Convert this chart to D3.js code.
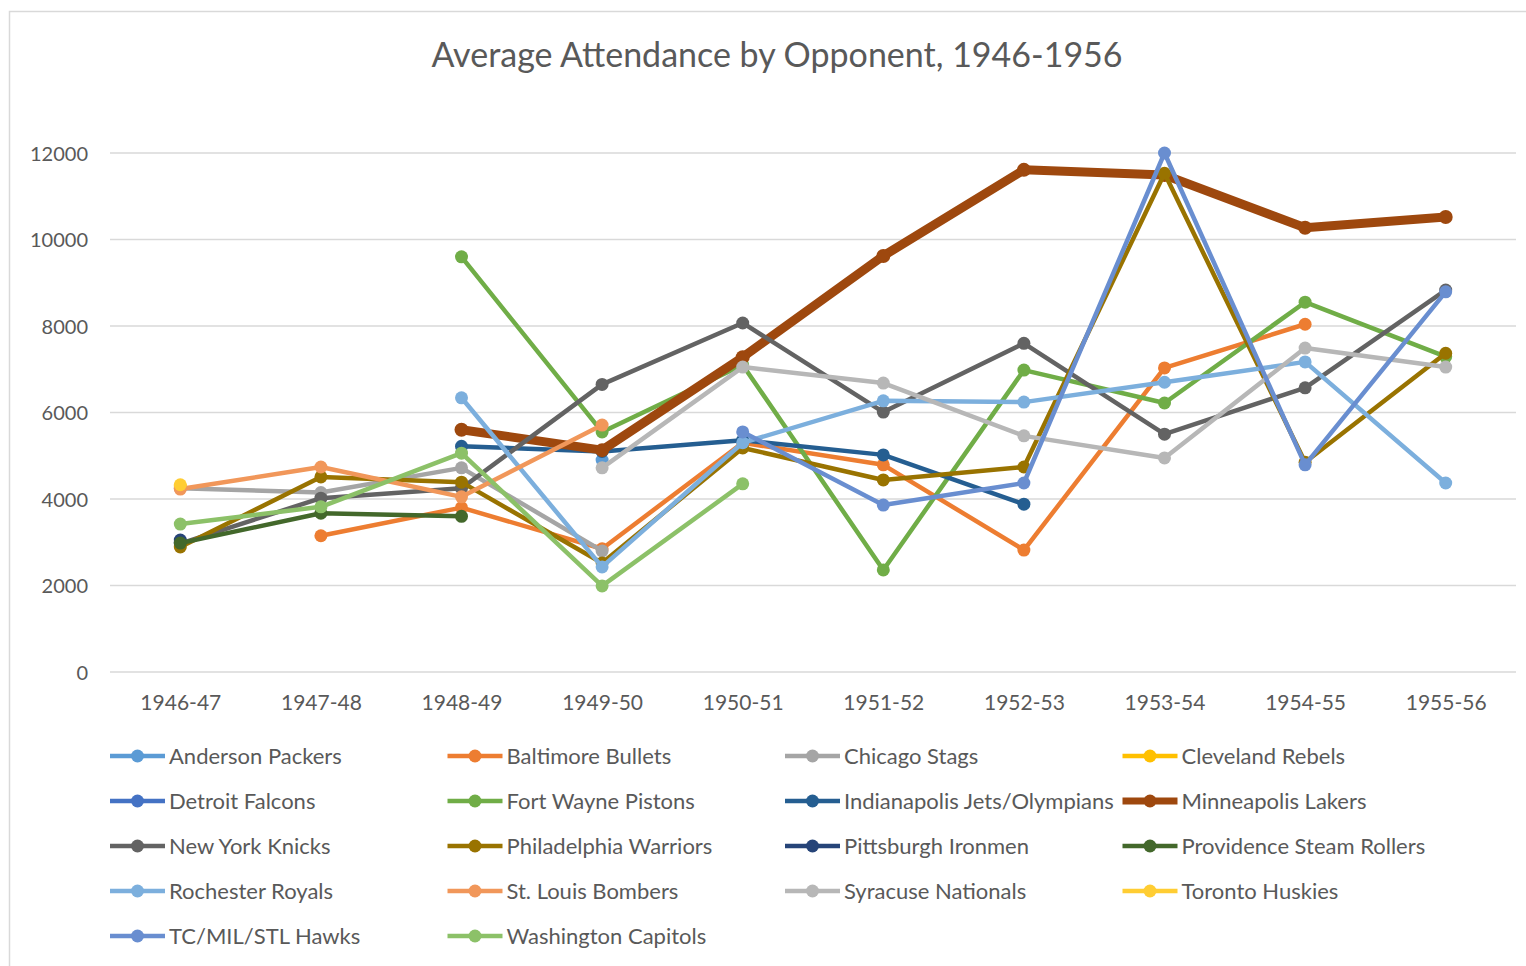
<!DOCTYPE html>
<meta charset="utf-8">
<head>
  <title>Average Attendance by Opponent</title>
</head>

<style>
body { margin: 0; background: white; }
text {
  font-family: Lato, "Noto Sans", sans-serif;
  fill: #595959;
}
.grid line { stroke: #d9d9d9; stroke-width: 1.5; }
.series path { fill: none; stroke-linejoin: round; }
</style>

<body>
  <svg width="1526" height="966"></svg>

  <script src="https://cdnjs.cloudflare.com/ajax/libs/d3/7.8.5/d3.min.js"></script>
  <script>
var seasons = ['1946-47', '1947-48', '1948-49', '1949-50', '1950-51',
               '1951-52', '1952-53', '1953-54', '1954-55', '1955-56'];
var yTicks = [0, 2000, 4000, 6000, 8000, 10000, 12000];

var teams = ['Anderson Packers', 'Baltimore Bullets', 'Chicago Stags', 'Cleveland Rebels',
             'Detroit Falcons', 'Fort Wayne Pistons', 'Indianapolis Jets/Olympians', 'Minneapolis Lakers',
             'New York Knicks', 'Philadelphia Warriors', 'Pittsburgh Ironmen', 'Providence Steam Rollers',
             'Rochester Royals', 'St. Louis Bombers', 'Syracuse Nationals', 'Toronto Huskies',
             'TC/MIL/STL Hawks', 'Washington Capitols'];

var teamColors = ['#5b9bd5', '#ed7d31', '#a5a5a5', '#ffc000',
                  '#4472c4', '#70ad47', '#255e91', '#9e480e',
                  '#636363', '#997300', '#264478', '#43682b',
                  '#7cafdd', '#f1975a', '#b7b7b7', '#ffcd33',
                  '#698ed0', '#8cc168'];

// one row per team, one value per season (null = no game that season)
var anderson     = [null, null, null, 4900, null, null, null, null, null, null];
var baltimore    = [null, 3150, 3800, 2850, 5300, 4790, 2820, 7030, 8040, null];
var chicago      = [4250, 4150, 4720, 2800, null, null, null, null, null, null];
var cleveland    = [4300, null, null, null, null, null, null, null, null, null];
var detroit      = [3000, null, null, null, null, null, null, null, null, null];
var fortWayne    = [null, null, 9600, 5550, 7100, 2360, 6980, 6220, 8550, 7290];
var indianapolis = [null, null, 5220, 5100, 5360, 5020, 3880, null, null, null];
var minneapolis  = [null, null, 5600, 5130, 7280, 9620, 11610, 11490, 10270, 10520];
var newYork      = [2970, 4020, 4250, 6650, 8070, 6010, 7600, 5500, 6570, 8830];
var philadelphia = [2890, 4510, 4390, 2520, 5180, 4440, 4740, 11530, 4850, 7370];
var pittsburgh   = [3050, null, null, null, null, null, null, null, null, null];
var providence   = [2980, 3670, 3600, null, null, null, null, null, null, null];
var rochester    = [null, null, 6340, 2430, 5300, 6270, 6240, 6700, 7170, 4370];
var stLouis      = [4230, 4740, 4050, 5710, null, null, null, null, null, null];
var syracuse     = [null, null, null, 4720, 7050, 6680, 5460, 4950, 7490, 7050];
var toronto      = [4330, null, null, null, null, null, null, null, null, null];
var hawks        = [null, null, null, null, 5550, 3860, 4370, 12000, 4790, 8790];
var washington   = [3420, 3820, 5060, 1990, 4350, null, null, null, null, null];

var values = [anderson, baltimore, chicago, cleveland, detroit, fortWayne, indianapolis,
              minneapolis, newYork, philadelphia, pittsburgh, providence, rochester,
              stLouis, syracuse, toronto, hawks, washington];

var series = teams.map(function(t, i) {
  return {
    name: t,
    color: teamColors[i],
    thick: t === 'Minneapolis Lakers',
    points: seasons.map(function(s, j) { return {season: s, value: values[i][j]}; })
  };
});

var svg = d3.select('svg');

// chart border
svg.append('rect')
  .attr('x', 9.5).attr('y', 11.5)
  .attr('width', 1540).attr('height', 1000)
  .attr('fill', 'white')
  .attr('stroke', '#d9d9d9')
  .attr('stroke-width', 1.5);

var x = d3.scalePoint()
  .domain(seasons)
  .range([110, 1516])
  .padding(0.5);

var y = d3.scaleLinear()
  .domain([0, 12000])
  .range([672, 153]);

svg.append('text')
  .attr('x', 777)
  .attr('y', 67)
  .attr('text-anchor', 'middle')
  .style('font-size', '34px')
  .text('Average Attendance by Opponent, 1946-1956');

// gridlines
svg.append('g')
  .attr('class', 'grid')
  .selectAll('line')
  .data(yTicks)
  .enter()
  .append('line')
  .attr('x1', 110)
  .attr('x2', 1516)
  .attr('y1', function(d) { return y(d); })
  .attr('y2', function(d) { return y(d); });

// y axis labels
var yAxis = svg.append('g')
  .attr('transform', 'translate(88,0)')
  .call(d3.axisLeft(y).tickValues(yTicks).tickSize(0).tickPadding(0).tickFormat(d3.format('d')));
yAxis.select('.domain').remove();
yAxis.selectAll('text')
  .attr('dy', '0.35em')
  .style('font-size', '20px')
  .attr('fill', '#595959');

// x axis labels
var xAxis = svg.append('g')
  .attr('transform', 'translate(0,672)')
  .call(d3.axisBottom(x).tickSize(0).tickPadding(23));
xAxis.select('.domain').remove();
xAxis.selectAll('text')
  .style('font-size', '21px')
  .attr('fill', '#595959');

var line = d3.line()
  .defined(function(d) { return d.value !== null; })
  .x(function(d) { return x(d.season); })
  .y(function(d) { return y(d.value); });

var groups = svg.selectAll('g.series')
  .data(series)
  .enter()
  .append('g')
  .attr('class', 'series');

groups.append('path')
  .attr('d', function(d) { return line(d.points); })
  .attr('stroke', function(d) { return d.color; })
  .attr('stroke-width', function(d) { return d.thick ? 9 : 4.5; });

groups.selectAll('circle')
  .data(function(d) {
    return d.points.filter(function(p) { return p.value !== null; })
      .map(function(p) { return {p: p, color: d.color, thick: d.thick}; });
  })
  .enter()
  .append('circle')
  .attr('cx', function(d) { return x(d.p.season); })
  .attr('cy', function(d) { return y(d.p.value); })
  .attr('r', function(d) { return d.thick ? 7 : 6.5; })
  .attr('fill', function(d) { return d.color; });

// legend, 4 columns
var legend = svg.selectAll('g.legend')
  .data(series)
  .enter()
  .append('g')
  .attr('class', 'legend')
  .attr('transform', function(d, i) {
    return 'translate(' + (110 + (i % 4) * 337.5) + ',' + (756 + Math.floor(i / 4) * 45) + ')';
  });

legend.append('line')
  .attr('x1', 0).attr('x2', 55)
  .attr('stroke', function(d) { return d.color; })
  .attr('stroke-width', function(d) { return d.thick ? 7 : 4.5; });

legend.append('circle')
  .attr('cx', 27.5)
  .attr('r', 6.5)
  .attr('fill', function(d) { return d.color; });

legend.append('text')
  .attr('x', 59)
  .attr('dy', '0.35em')
  .style('font-size', '22px')
  .text(function(d) { return d.name; });
  </script>
</body>
</html>
